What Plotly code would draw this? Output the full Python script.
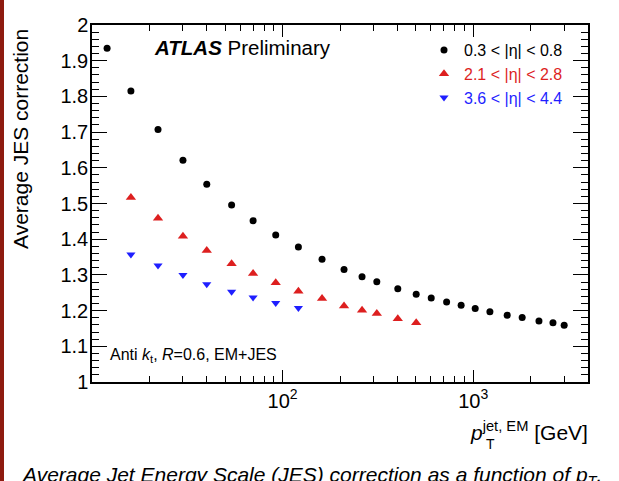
import math
import plotly.graph_objects as go

# ---- data ----
pt_central = [12, 16, 22.2, 30, 40, 54, 70, 92, 121, 161, 210, 261, 312, 402, 502,
              602, 725, 864, 1024, 1223, 1507, 1806, 2212, 2620, 3000]
jes_central = [1.935, 1.815, 1.707, 1.621, 1.554, 1.496, 1.452, 1.412, 1.378, 1.344,
               1.315, 1.295, 1.281, 1.261, 1.246, 1.235, 1.224, 1.215, 1.206, 1.197,
               1.187, 1.181, 1.171, 1.166, 1.159]

pt_endcap = [16, 22.2, 30, 40, 54, 70, 92, 121, 161, 210, 261, 312, 402, 502]
jes_endcap = [1.517, 1.459, 1.408, 1.368, 1.331, 1.304, 1.278, 1.254, 1.234, 1.213,
              1.201, 1.192, 1.177, 1.166]

pt_forward = [16, 22.2, 30, 40, 54, 70, 92, 121]
jes_forward = [1.357, 1.326, 1.300, 1.274, 1.253, 1.237, 1.221, 1.207]

series_names = ["0.3 &lt; |η| &lt; 0.8", "2.1 &lt; |η| &lt; 2.8", "3.6 &lt; |η| &lt; 4.4"]
series_colors = ["#000000", "#dd1f1f", "#1f1fff"]

x_major_ticks = [100, 1000]
x_major_text = ["10<sup>2</sup>", "10<sup>3</sup>"]
x_minor_ticks = [20, 30, 40, 50, 60, 70, 80, 90, 200, 300, 400, 500, 600, 700, 800, 900,
                 2000, 3000, 4000]

FONT = "Liberation Sans, Arial, Helvetica, sans-serif"

fig = go.Figure()
fig.add_trace(go.Scatter(x=pt_central, y=jes_central, mode="markers", name=series_names[0],
                         marker=dict(symbol="circle", size=7, color=series_colors[0])))
fig.add_trace(go.Scatter(x=pt_endcap, y=jes_endcap, mode="markers", name=series_names[1],
                         marker=dict(symbol="triangle-up", size=9, color=series_colors[1])))
fig.add_trace(go.Scatter(x=pt_forward, y=jes_forward, mode="markers", name=series_names[2],
                         marker=dict(symbol="triangle-down", size=8, color=series_colors[2])))

# colour the legend text per series
for tr, c in zip(fig.data, series_colors):
    tr.name = f"<span style='color:{c}'>{tr.name}</span>"

W, H = 619, 481
ml, mr, mt, mb = 92, 31, 25, 99
pw, ph = W - ml - mr, H - mt - mb


def px(xp):
    return (xp - ml) / pw


def py(yp):
    return (H - mb - yp) / ph


fig.update_layout(
    width=W, height=H,
    margin=dict(l=ml, r=mr, t=mt, b=mb),
    paper_bgcolor="white", plot_bgcolor="white",
    font=dict(family=FONT, size=20, color="black"),
    showlegend=True,
    legend=dict(x=px(424), y=py(33), xanchor="left", yanchor="top",
                font=dict(size=16), bgcolor="rgba(0,0,0,0)",
                tracegroupgap=0, itemwidth=30),
    xaxis=dict(type="log", range=[1, math.log10(4000)],
               tickmode="array", tickvals=x_major_ticks, ticktext=x_major_text,
               ticks="inside", ticklen=12, tickwidth=1, tickcolor="black",
               minor=dict(tickmode="array", tickvals=x_minor_ticks, ticks="inside",
                          ticklen=6, tickwidth=1, tickcolor="black", showgrid=False),
               showline=True, linecolor="black", linewidth=1.5, mirror="ticks",
               showgrid=False, zeroline=False, tickfont=dict(size=20)),
    yaxis=dict(range=[1, 2], dtick=0.1, tick0=1,
               ticks="inside", ticklen=15, tickwidth=1, tickcolor="black",
               minor=dict(dtick=0.02, ticks="inside", ticklen=7, tickwidth=1,
                          tickcolor="black", showgrid=False),
               showline=True, linecolor="black", linewidth=1.5, mirror="ticks",
               showgrid=False, zeroline=False, tickfont=dict(size=20),
               ticklabelstandoff=-2),
)

ann = []
# y-axis title
ann.append(dict(text="Average JES correction", textangle=-90, xref="paper", yref="paper",
                x=px(20), y=py(27), xanchor="center", yanchor="top", showarrow=False,
                font=dict(size=21)))
# x-axis title
ann.append(dict(text="<i>p</i><sup>jet, EM</sup> [GeV]", xref="paper", yref="paper",
                x=px(590), y=py(431), xanchor="right", yanchor="middle", showarrow=False,
                font=dict(size=21)))
ann.append(dict(text="T", xref="paper", yref="paper",
                x=px(490), y=py(444), xanchor="center", yanchor="middle", showarrow=False,
                font=dict(size=14)))
# ATLAS label
ann.append(dict(text="<b><i>ATLAS</i></b> Preliminary", xref="paper", yref="paper",
                x=px(152), y=py(47), xanchor="left", yanchor="middle", showarrow=False,
                font=dict(size=20.5)))
# jet algorithm label
ann.append(dict(text="Anti <i>k</i><sub>t</sub>, <i>R</i>=0.6, EM+JES", xref="paper", yref="paper",
                x=px(108), y=py(355), xanchor="left", yanchor="middle", showarrow=False,
                font=dict(size=16)))
# caption
ann.append(dict(text="<i>Average Jet Energy Scale (JES) correction as a function of p<sub>T</sub>.</i>",
                xref="paper", yref="paper",
                x=px(19), y=py(476), xanchor="left", yanchor="middle", showarrow=False,
                font=dict(size=21)))
fig.update_layout(annotations=ann)

# dark red bar at the left edge of the page
fig.add_shape(type="rect", xref="paper", yref="paper",
              x0=px(0), x1=px(4), y0=py(H), y1=py(0),
              fillcolor="#8e1b10", line=dict(width=0), layer="above")

fig.write_html("out.html", config={"displayModeBar": False},
               post_script="document.body.style.margin='0';document.body.style.overflow='hidden';")
